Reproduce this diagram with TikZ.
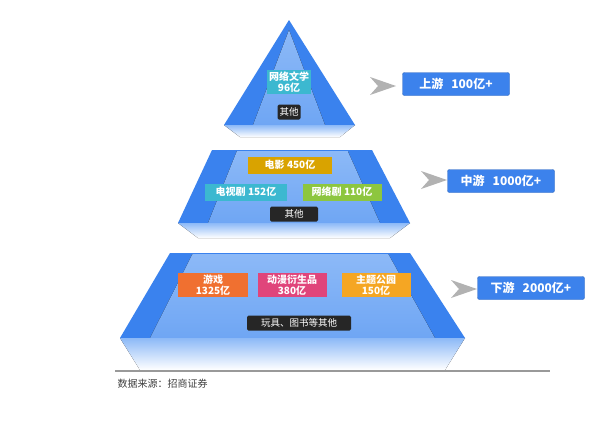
\documentclass[tikz,border=0pt]{standalone}
\usepackage{fontspec}
\setmainfont{Noto Sans CJK SC}
\usetikzlibrary{positioning}
\definecolor{tierblue}{HTML}{3A82EE}
\definecolor{tierlight}{HTML}{8CB9F7}
\definecolor{tiermid}{HTML}{6FA6F4}
\definecolor{tagblue}{HTML}{3C82EC}
\definecolor{ccyan}{HTML}{3CB8D0}
\definecolor{cgold}{HTML}{D9A300}
\definecolor{cgreen}{HTML}{8DC63F}
\definecolor{corange}{HTML}{F07030}
\definecolor{cpink}{HTML}{E0457B}
\definecolor{cyellow}{HTML}{F5A623}
\tikzset{
  item/.style={fill=#1, text=white, font=\bfseries\fontsize{10}{11}\selectfont, align=center, inner sep=2pt, minimum height=17},
  other/.style={fill=black!85, rounded corners=1.5, text=white, font=\fontsize{9.5}{10}\selectfont, inner sep=2pt, minimum height=15},
  level/.style={fill=tagblue, draw=tagblue!80!black, rounded corners=2, text=white, font=\bfseries\fontsize{12}{13}\selectfont, minimum height=23, inner xsep=6pt},
}
\newcommand{\tier}[7]{% top y, bottom y, top xl, top xr, bot xl, bot xr, fade y
  \fill[tierblue] (#3,#1) -- (#4,#1) -- (#6,#2) -- (#5,#2) -- cycle;
  \fill[top color=tierlight, bottom color=tiermid]
    ({#3+(#5-#3)*0.15+30},{#1+1}) -- ({#4-(#4-#6)*0.15-30},{#1+1}) -- ({#6-30},{#2}) -- ({#5+30},{#2}) -- cycle;
  \fill[top color=tierlight, bottom color=white] (#5,#2) -- (#6,#2) -- ({#6-20},#7) -- ({#5+20},#7) -- cycle;
}
\newcommand{\pointer}[2]{\fill[gray!60] (#1,#2-9) -- (#1+26,#2) -- (#1,#2+9) -- (#1+8,#2) -- cycle;}
\begin{document}
\begin{tikzpicture}[x=1pt,y=-1pt]
\useasboundingbox[fill=white] (0,0) rectangle (600,437);
% pyramid tiers
\fill[tierblue] (289,20) -- (355,125) -- (224,125) -- cycle;
\fill[top color=tierlight, bottom color=tiermid] (289,30) -- (325,125) -- (253,125) -- cycle;
\fill[top color=tierlight, bottom color=white] (224,125) -- (355,125) -- (340,137) -- (240,137) -- cycle;
\tier{150}{223}{212}{372}{178}{410}{238}
\tier{253}{338}{170}{410}{120}{465}{370}
% top tier
\node[item=ccyan] (web) at (289,82) {网络文学\\96亿};
\node[other] (top other) at (289,112) {其他};
% middle tier
\node[item=cgold, minimum width=84] (film) at (290,165) {电影 450亿};
\node[item=ccyan, minimum width=82] (tv) at (246,192) {电视剧 152亿};
\node[item=cgreen, minimum width=79] (webtv) at (342,192) {网络剧 110亿};
\node[other, minimum width=48] (mid other) at (294,214) {其他};
% bottom tier
\node[item=corange, minimum width=70] (game) at (213,285) {游戏\\1325亿};
\node[item=cpink, minimum width=69] (anime) at (292,285) {动漫衍生品\\380亿};
\node[item=cyellow, minimum width=69] (park) at (376,285) {主题公园\\150亿};
\node[other, minimum width=104] (low other) at (299,323) {玩具、图书等其他};
% levels
\pointer{370}{86}
\node[level, minimum width=107] (up) at (456,84) {上游\hspace{8pt}100亿+};
\pointer{421}{180}
\node[level, minimum width=107] (mid) at (501,181) {中游\hspace{8pt}1000亿+};
\pointer{451}{289}
\node[level, minimum width=107] (down) at (531,288) {下游\hspace{8pt}2000亿+};
% source
\draw[gray!80, line width=1.5] (115,371) -- (550,371);
\node[anchor=west, text=black!75, font=\fontsize{10}{11}\selectfont] (src) at (114,384) {数据来源：招商证券};
\end{tikzpicture}
\end{document}
